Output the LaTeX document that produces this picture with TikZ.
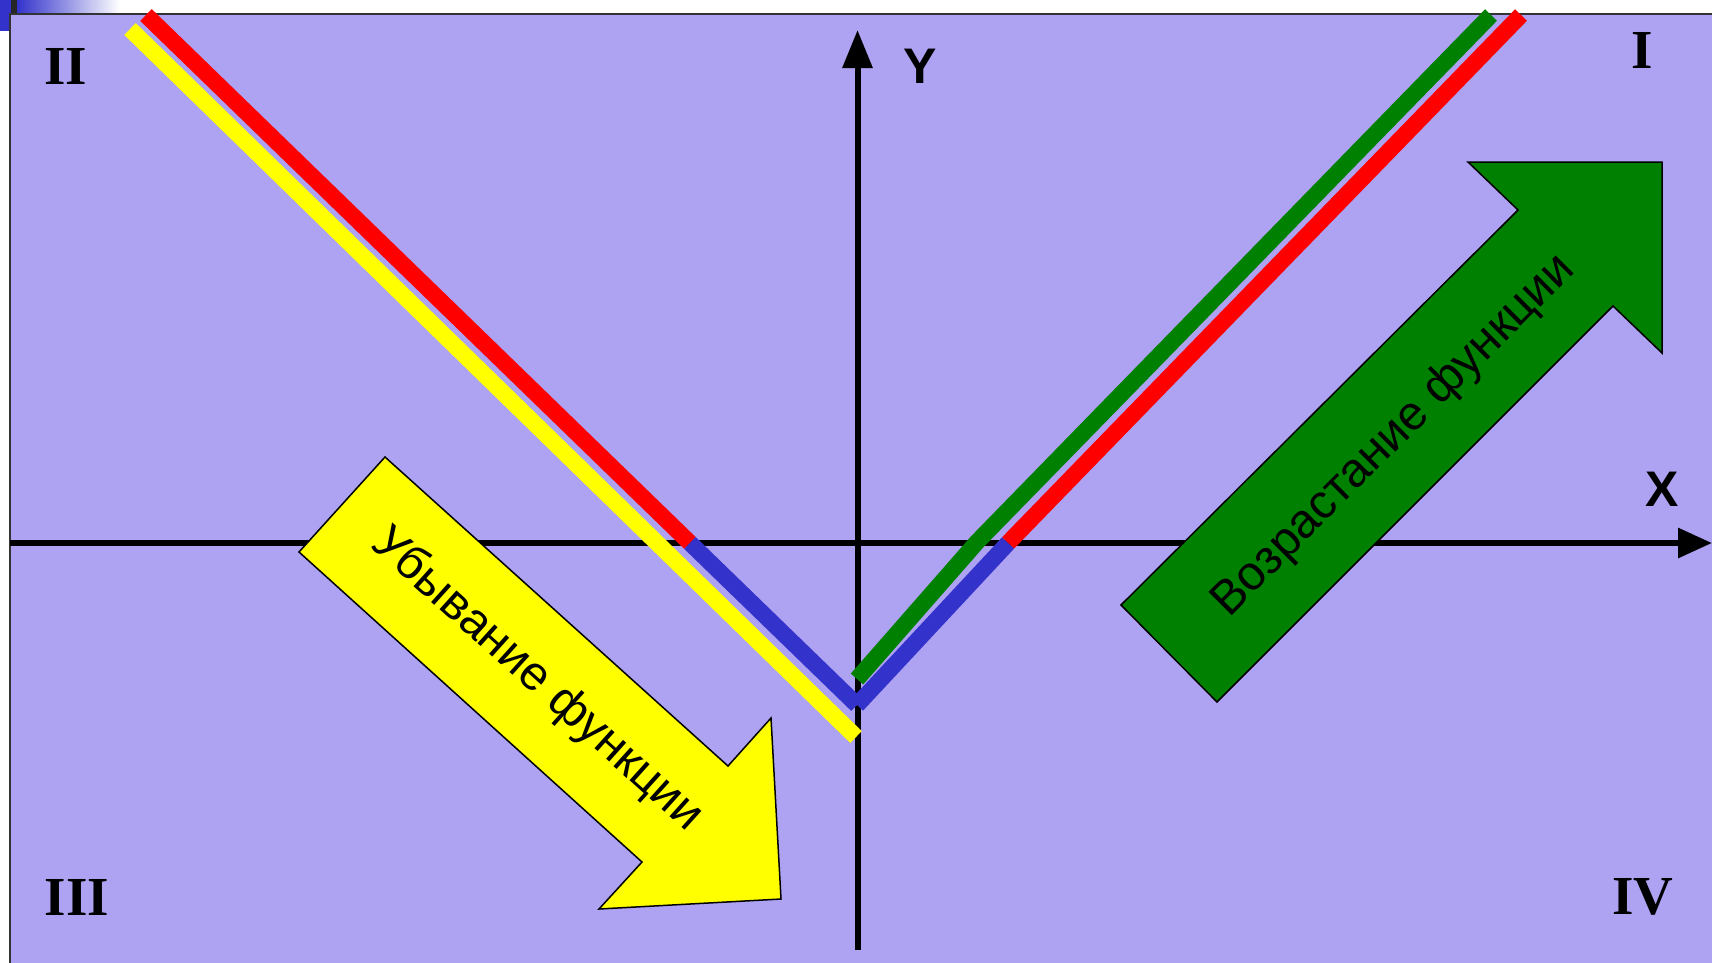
\documentclass[tikz,border=0pt]{standalone}
\usepackage{fontspec}
\setmainfont{Liberation Serif}
\setsansfont{Liberation Sans}
\usetikzlibrary{arrows.meta}
\definecolor{bg}{RGB}{174,162,242}
\definecolor{bluel}{RGB}{51,51,204}
\definecolor{greenl}{RGB}{0,128,0}
\definecolor{redl}{RGB}{255,0,0}
\definecolor{yell}{RGB}{255,255,0}
\begin{document}
\begin{tikzpicture}[x=1pt,y=-1pt,
  axis/.style={line width=6pt, black},
  band/.style={line width=16.5pt},
  quad/.style={font=\fontsize{55}{60}\selectfont\bfseries, inner sep=0pt},
  axlab/.style={font=\sffamily\bfseries\fontsize{50}{60}\selectfont, inner sep=0pt},
  arrlab/.style={font=\sffamily\fontsize{48}{56}\selectfont, inner sep=0pt},
  blockarrow/.style={draw=black, line width=1.5pt, line join=miter}
]
\useasboundingbox (0,0) rectangle (1712,962);
\clip (0,0) rectangle (1712,962);
% page decoration
\fill[white] (0,0) rectangle (1712,962);
\fill[bluel] (0,0) rectangle (11,31);
\fill[black!85] (11,0) rectangle (17,13);
\shade[left color=bluel, right color=white] (17,0) rectangle (120,13);
% background panel
\fill[bg] (10,14) rectangle (1720,970);
\draw[line width=2pt, black!80] (10,980) -- (10,14) -- (1720,14);
% axes
\coordinate (xs) at (10,543);
\coordinate (xe) at (1712,543);
\coordinate (ys) at (857.5,950);
\coordinate (ye) at (857.5,30);
\draw[axis, -{Triangle[length=34pt,width=29pt]}] (xs) -- (xe);
\draw[axis, -{Triangle[length=38pt,width=29pt]}] (ys) -- (ye);
% graph points
\coordinate (rl1) at (146,15);
\coordinate (rl2) at (690,543);
\coordinate (v) at (857,705);
\coordinate (rr1) at (1008,543);
\coordinate (rr2) at (1521,15);
\coordinate (g1) at (857,679);
\coordinate (g2) at (977,542);
\coordinate (g3) at (1491,15);
\coordinate (y1) at (130,29);
\coordinate (y2) at (856,737);
% bands
\draw[band, yell] (y1) -- (y2);
\draw[band, greenl] (g1) -- (g2) -- (g3);
\draw[band, redl] (rl1) -- (rl2);
\draw[band, redl] (rr1) -- (rr2);
\draw[band, bluel] (rl2) -- (v);
\draw[band, bluel] (v) -- (rr1);
% yellow block arrow
\draw[blockarrow, fill=yell] (385,457) -- (299,552) -- (642,862) -- (599,909) -- (781,899) -- (771,718) -- (728,766) -- cycle;
% green block arrow
\draw[blockarrow, fill=greenl] (1121,605) -- (1217,702) -- (1613,306) -- (1662,353) -- (1662,162) -- (1468,162) -- (1518,210) -- cycle;
% arrow labels
\node[arrlab, rotate=-42] (dec) at (537,680) {Убывание функции};
\node[arrlab, rotate=45] (inc) at (1394,436) {Возрастание функции};
% axis labels
\node[axlab] (lx) at (1662,489) {X};
\node[axlab] (ly) at (920,66) {Y};
% quadrant labels
\node[quad] (q1) at (1642,50) {I};
\node[quad] (q2) at (66,66) {II};
\node[quad] (q3) at (77,897) {III};
\node[quad] (q4) at (1643,897) {IV};
\end{tikzpicture}
\end{document}
